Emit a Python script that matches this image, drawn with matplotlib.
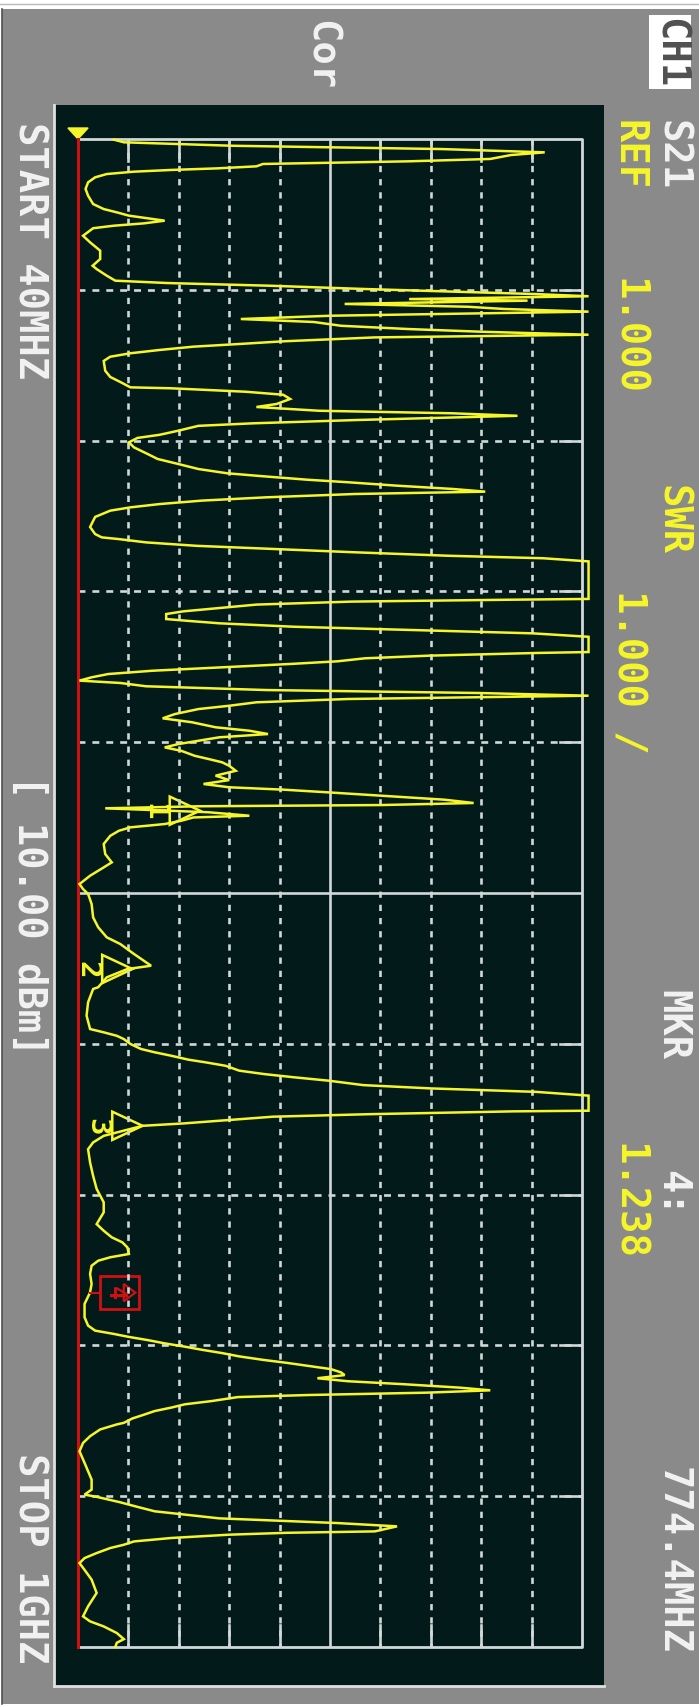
import matplotlib
matplotlib.use("Agg")
import matplotlib.pyplot as plt
from matplotlib.patches import Rectangle, Polygon
import numpy as np

plt.rcParams['lines.scale_dashes'] = False

# sweep settings shown on the screen
f_start, f_stop = 40.0, 1000.0          # MHz
ref_level, scale_div = 1.0, 1.0         # SWR, SWR/div
n_div = 10
OFF = 12.0                              # reading above the top of the screen

# trace, (MHz, SWR), in bands
band1 = [(40.4,1.71),(42.1,1.91),(44.3,4.06),(46.4,8.21),(48.5,10.26),(50.2,9.59),(52.7,9.18),
         (54.2,7.57),(55.9,4.67),(57.4,4.54),(58.7,3.76),(59.7,2.85),(60.8,2.11),(62.3,1.57),
         (64.4,1.34),(67.6,1.20),(71.8,1.15),(76.1,1.20),(81.4,1.30),(84.6,1.51),(86.7,1.77),
         (88.8,2.01),(90.5,2.38),(92.0,2.72),(93.7,2.31),(95.2,1.71),(96.8,1.30),(101.6,1.10),
         (105.8,1.24),(111.1,1.44),(116.4,1.44),(120.7,1.29),(122.8,1.37),(127.0,1.57),
         (130.2,1.74),(131.7,2.78),(133.4,4.80),(135.5,6.69),(137.2,8.51),(138.7,10.06),
         (140.1,OFF),(141.9,7.57),(142.9,9.92),(145.0,6.29),(146.8,8.74),(148.2,9.45),
         (149.9,OFF),(152.5,6.02),(154.6,4.23),(156.5,5.68),(158.9,6.22),(161.0,7.57),
         (162.7,9.01),(164.6,OFF),(166.3,6.89),(168.8,5.07),(170.5,4.20),(172.2,3.29)]
band2 = [(174.3,2.62),(176.4,2.04),(178.6,1.64),(181.3,1.51),(187.5,1.54),(191.5,1.64),
         (194.7,1.84),(198.1,2.04),(198.7,2.85),(200.9,4.33),(202.8,5.07),(205.5,5.21),
         (208.7,4.94),(210.6,4.54),(213.0,5.78),(214.6,8.41),(216.2,9.72),(218.9,6.52),
         (221.0,4.47),(222.6,3.39),(225.7,2.99),(228.3,2.62),(230.3,2.18),(233.1,2.01),
         (236.3,2.11),(240.5,2.38),(243.7,2.58),(246.9,2.99),(250.1,3.39),(252.8,3.96),
         (254.7,4.67),(256.9,5.55),(258.5,6.35),(260.7,7.33),(262.8,8.44),(264.5,9.08),
         (266.0,6.49),(268.1,4.74),(270.2,3.46),(272.4,2.62),(274.5,2.04),(276.6,1.64),
         (280.6,1.34),(287.0,1.24),(291.5,1.34),(293.6,1.47),(294.7,1.81),(296.8,2.35),
         (299.0,3.36),(301.0,4.87),(303.1,6.49),(305.3,8.34),(306.9,10.23),(308.9,OFF)]
band3 = [(313.7,OFF),(320.1,OFF),(326.5,OFF),(332.8,OFF),(333.3,9.55),(334.5,6.42),(336.4,4.54),
         (338.6,3.80),(340.7,3.09),(342.4,2.75),(345.6,2.75),(346.7,3.16),(348.3,3.80),
         (350.5,5.28),(352.6,7.67),(354.7,10.02),(356.9,OFF),(361.5,OFF),(366.6,OFF),
         (367.2,10.09),(368.9,7.97),(370.6,6.69),(372.5,6.15),(374.2,5.21),(376.3,3.86),
         (378.5,2.48),(380.6,1.60),(382.7,1.27),(384.8,1.03),(386.3,1.84),(388.4,2.35),
         (390.8,4.74),(392.7,8.98),(394.4,OFF),(396.5,6.35),(398.6,4.54),(400.8,4.00),
         (402.9,3.39),(406.1,2.92),(408.8,2.68),(411.3,3.26),(414.5,3.73),(416.7,4.40),
         (418.8,4.77),(420.9,3.80),(423.1,3.39),(425.2,2.99),(427.3,2.72),(429.5,3.05),
         (432.7,3.32),(434.7,3.59),(436.8,3.86),(439.0,4.00),(442.2,4.13),(445.3,3.73)]
band4 = [(448.1,4.00),(450.6,3.49),(452.7,4.00),(454.2,5.07),(456.3,6.15),(458.5,7.23),
         (460.6,8.27),(462.7,8.85),(464.0,7.03),(464.8,3.39),(466.1,1.54),(467.2,2.48),
         (468.6,3.59),(470.8,4.40),(471.9,3.29),(474.0,3.05),(476.1,2.72),(478.2,2.04),
         (480.4,1.81),(483.6,1.64),(488.8,1.51),(495.2,1.54),(500.5,1.67),(503.7,1.51),
         (509.0,1.24),(514.3,1.03),(517.5,1.10),(520.6,1.20),(527.0,1.27),(535.5,1.30),
         (541.8,1.40),(548.2,1.57),(552.5,1.84),(558.8,2.11),(566.3,2.45),(568.4,1.98),
         (573.7,1.57),(580.0,1.40)]
band5 = [(581.1,1.30),(589.6,1.20),(598.1,1.17),(606.6,1.24),(608.7,1.51),(610.9,1.77),
         (613.0,1.91),(616.1,2.04),(619.3,2.25),(621.4,2.52),(623.6,2.85),(626.1,3.19),
         (627.8,3.53),(630.0,3.93),(633.1,4.20),(635.3,4.70),(637.3,5.28),(639.5,5.98),
         (642.3,6.66),(644.4,8.00),(646.6,10.09),(649.0,OFF),(653.7,OFF),(658.6,OFF),
         (659.0,9.65),(660.8,6.79),(662.4,4.87),(664.5,4.00),(666.7,3.09),(668.2,2.28),
         (674.6,1.51),(678.8,1.30),(683.1,1.20),(691.6,1.24),(700.1,1.30),(708.4,1.37),
         (716.9,1.51)]
band6 = [(723.3,1.51),(730.8,1.37),(735.0,1.51),(739.2,1.67),(742.4,1.88),(745.6,1.98),
         (749.8,2.01),(751.9,1.64),(754.1,1.40),(757.3,1.27),(762.5,1.24),(768.9,1.27),
         (774.4,1.238),(781.6,1.13),(790.1,1.13),(795.4,1.20),(798.6,1.34),(800.7,1.71),
         (802.6,2.01),(804.6,2.38),(806.7,2.72),(808.8,3.12),(810.8,3.46),(812.9,3.86),
         (815.0,4.20),(817.2,4.67),(819.1,5.14),(821.2,5.61),(823.1,6.02),(825.2,6.22),
         (826.9,6.29),(828.9,5.75),(830.8,6.35),(832.7,7.46),(834.9,8.58),(836.6,9.18),
         (838.1,7.90),(839.6,5.55),(840.9,4.17),(843.4,3.66),(845.5,3.12),(847.6,2.85),
         (849.8,2.52),(852.1,2.31),(854.5,2.08),(857.3,1.91)]
band7 = [(858.3,1.77),(861.5,1.44),(865.8,1.24),(870.1,1.10),(875.4,1.03),(882.8,1.13),
         (893.4,1.27),(899.8,1.27),(903.0,1.13),(904.4,1.37),(907.9,1.84),(910.8,2.18),
         (913.6,2.52),(918.1,3.80),(921.1,6.15),(923.2,7.33),(926.4,6.89),(927.3,5.14),
         (928.5,4.00),(930.6,2.85),(932.8,2.11),(934.9,1.91),(937.0,1.64),(940.2,1.37),
         (943.4,1.13),(946.6,1.03),(950.9,1.13),(957.1,1.27),(965.6,1.37),(974.1,1.20),
         (980.5,1.10),(983.7,1.24),(986.9,1.51),(991.1,1.77),(995.0,1.91),(997.3,1.77),
         (1000.0,1.74)]

# markers: number, frequency (MHz), SWR at the triangle tip
marker_ids = ['1', '2', '3']
marker_freq = [467.6, 568.4, 668.2]
marker_swr = [3.42, 2.08, 2.28]
active_marker_freq = 774.4
active_marker_swr = 1.238

YEL = '#f6f62a'
GRID = '#d0d8d8'
WHITE = '#f2f2f2'
RED = '#d01010'
FONT = 'DejaVu Sans Mono'

trace = np.array(band1 + band2 + band3 + band4 + band5 + band6 + band7)
freq = trace[:, 0]
swr = trace[:, 1]
top = ref_level + n_div * scale_div

fig = plt.figure(figsize=(6.99, 17.08), dpi=100, facecolor='white')

# screen furniture in pixel coordinates
bg = fig.add_axes([0, 0, 1, 1])
bg.set_xlim(0, 699)
bg.set_ylim(1708, 0)
bg.axis('off')
bg.plot([0, 699], [5, 5], color='#b8b8b8', lw=1)
bg.add_patch(Rectangle((2, 10), 697, 1695, facecolor='#8a8a8a', edgecolor='none'))
bg.plot([2, 2], [10, 1705], color='#505050', lw=1.2)
bg.add_patch(Rectangle((54, 106), 550, 1581, facecolor='#021a1a', edgecolor='none'))
bg.plot([54, 54], [106, 1687], color='#e0e0e0', lw=2)
bg.plot([54, 604], [1687, 1687], color='#e0e0e0', lw=2)

def label(x, y, s, color, size=28, **kw):
    bg.text(x, y, s, color=color, fontsize=size, family=FONT, fontweight='bold',
            rotation=270, ha='center', va='top', **kw)

label(670, 18, 'CH1', '#505050', bbox=dict(facecolor='white', edgecolor='none', pad=1.5))
label(672, 120, 'S21', WHITE)
label(628, 120, 'REF', YEL)
label(628, 278, '1.000', YEL)
label(672, 485, 'SWR', YEL)
label(628, 590, '1.000 /', YEL)
label(672, 990, 'MKR', WHITE)
label(672, 1170, '4:', WHITE)
label(628, 1143, '1.238', YEL)
label(672, 1467, '774.4MHZ', WHITE)
label(321, 20, 'Cor', WHITE)
label(29, 122, 'START 40MHZ', WHITE)
label(29, 775, '[ 10.00 dBm]', WHITE)
label(29, 1453, 'STOP 1GHZ', WHITE)

# graticule: SWR across, frequency down
ax = fig.add_axes([78 / 699, 60 / 1708, 504 / 699, 1508 / 1708])
ax.set_facecolor('none')
ax.set_xlim(ref_level, top)
ax.set_ylim(f_stop, f_start)
ax.axis('off')

fdiv = (f_stop - f_start) / n_div
tick_f = 14.0
tick_s = 0.44
glw = 1.9
for k in range(1, n_div):
    s = ref_level + k * scale_div
    f = f_start + k * fdiv
    if k == 5:
        ax.plot([s, s], [f_start, f_stop], color=GRID, lw=glw)
        ax.plot([ref_level, top], [f, f], color=GRID, lw=glw)
        continue
    ax.plot([s, s], [f_start, f_stop], color=GRID, lw=glw, dashes=(4.5, 5.0))
    ax.plot([s, s], [f_start, f_start + tick_f], color=GRID, lw=glw)
    ax.plot([s, s], [f_stop - tick_f, f_stop], color=GRID, lw=glw)
    ax.plot([ref_level, top], [f, f], color=GRID, lw=glw, dashes=(5, 5))
    ax.plot([top - tick_s, top], [f, f], color=GRID, lw=glw)
ax.plot([ref_level, top, top, ref_level], [f_start, f_start, f_stop, f_stop],
        color=GRID, lw=2.0, clip_on=False)
ax.plot([ref_level, ref_level], [f_start, f_stop], color=RED, lw=2.2, clip_on=False)

# reference position arrow
ax.add_patch(Polygon([(ref_level, f_start), (ref_level - 0.2, f_start - 7),
                      (ref_level + 0.2, f_start - 7)], closed=True,
                     facecolor=YEL, edgecolor=YEL, clip_on=False))

# trace, limited at the top of the screen like the analyzer does
ax.plot(np.minimum(swr, top + 0.13), freq, color=YEL, lw=1.8, clip_on=False,
        solid_joinstyle='miter')

# inactive markers
for mid, mf, ms in zip(marker_ids, marker_freq, marker_swr):
    tri = [(ms, mf), (ms - 0.6, mf - 9), (ms - 0.6, mf + 9)]
    ax.add_patch(Polygon(tri, closed=True, facecolor='none', edgecolor=YEL, lw=1.8))
    ax.text(ms - 0.62, mf, mid, color=YEL, fontsize=21, family=FONT, fontweight='bold',
            rotation=270, ha='right', va='center')

# active marker 4 in a red box
bx0, bx1 = active_marker_swr + 0.2, active_marker_swr + 0.97
ax.plot([active_marker_swr, bx0], [active_marker_freq, active_marker_freq], color=RED, lw=1.5)
ax.add_patch(Rectangle((bx0, active_marker_freq - 10.5), bx1 - bx0, 21,
                       facecolor='none', edgecolor=RED, lw=2.0))
ax.text(bx0 + 0.3, active_marker_freq, '4', color=RED, fontsize=17, family=FONT,
        fontweight='bold', rotation=270, ha='center', va='center')
ax.add_patch(Polygon([(bx0 + 0.7, active_marker_freq), (bx0 + 0.47, active_marker_freq - 5.5),
                      (bx0 + 0.47, active_marker_freq + 5.5)], closed=True,
                     facecolor='none', edgecolor=RED, lw=1.6))

fig.savefig('out.png', dpi=100, facecolor='white')
